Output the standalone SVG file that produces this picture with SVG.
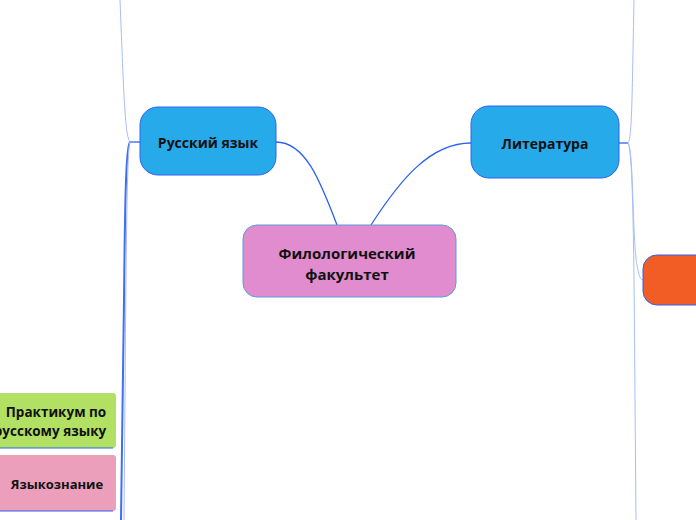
<svg xmlns="http://www.w3.org/2000/svg" width="696" height="520" viewBox="0 0 696 520">
<style>
.t{font-family:"Open Sans","Noto Sans","DejaVu Sans",sans-serif;font-weight:bold;fill:#111;text-anchor:middle}
.main{stroke:#2c62f0;stroke-width:1.3;fill:none}
.thick{stroke:#3d6ef5;stroke-width:2;fill:none}
.light{stroke:#a8bdf8;stroke-width:1;fill:none}
</style>
<rect width="696" height="520" fill="#fff"/>
<g id="connectors">
<path class="main" d="M276,142 C305,142 320,180 337,225"/>
<path class="main" d="M471,143 C430,143 400,180 371,225"/>
<path class="main" d="M140,142 L130,142"/>
<path class="light" d="M130,142 C125,135 124,100 120,0"/>
<path class="thick" d="M130,142 C126,145 125,200 124,300 L121,520"/>
<path class="light" d="M130,142 C127,150 126,250 125,400 L124,520"/>
<path class="main" d="M619,143 L628,143"/>
<path class="light" d="M628,143 C632,138 632,100 634,0"/>
<path class="light" d="M628,143 C634,150 632,250 638,270 C640,280 642,280 643,280"/>
<path class="light" d="M628,143 C633,150 634,250 635,400 L636,520"/>
</g>
<g id="n-russian">
<rect x="140" y="107" width="136" height="68" rx="18" fill="#27aae9" stroke="#2c62f0" stroke-width="1"/>
<text class="t" x="208" y="148" font-size="14">Русский язык</text>
</g>
<g id="n-literature">
<rect x="471" y="106" width="148" height="72" rx="18" fill="#27aae9" stroke="#2c62f0" stroke-width="1"/>
<text class="t" x="545" y="149" font-size="14">Литература</text>
</g>
<g id="n-center">
<rect x="243" y="225" width="213" height="72" rx="14" fill="#e08ccf" stroke="#5a9ce0" stroke-width="1"/>
<text class="t" x="347" y="259" font-size="15">Филологический</text>
<text class="t" x="347" y="280" font-size="15">факультет</text>
</g>
<g id="n-orange">
<rect x="643" y="255" width="80" height="50" rx="14" fill="#f15d24" stroke="#2c62f0" stroke-width="1"/>
</g>
<g id="n-practicum">
<rect x="-20" y="393" width="136" height="55" rx="3" fill="#b2e063"/>
<path d="M-20,448 L113,448" stroke="#2c62f0" stroke-width="1"/>
<text class="t" x="56" y="417" font-size="13.5">Практикум по</text>
<text class="t" x="50" y="436" font-size="13.5">русскому языку</text>
</g>
<g id="n-lingvo">
<rect x="-20" y="455" width="136" height="56" rx="3" fill="#eb9fbb"/>
<path d="M-20,511 L113,511" stroke="#2c62f0" stroke-width="1"/>
<text class="t" x="57" y="489" font-size="13">Языкознание</text>
</g>
</svg>
